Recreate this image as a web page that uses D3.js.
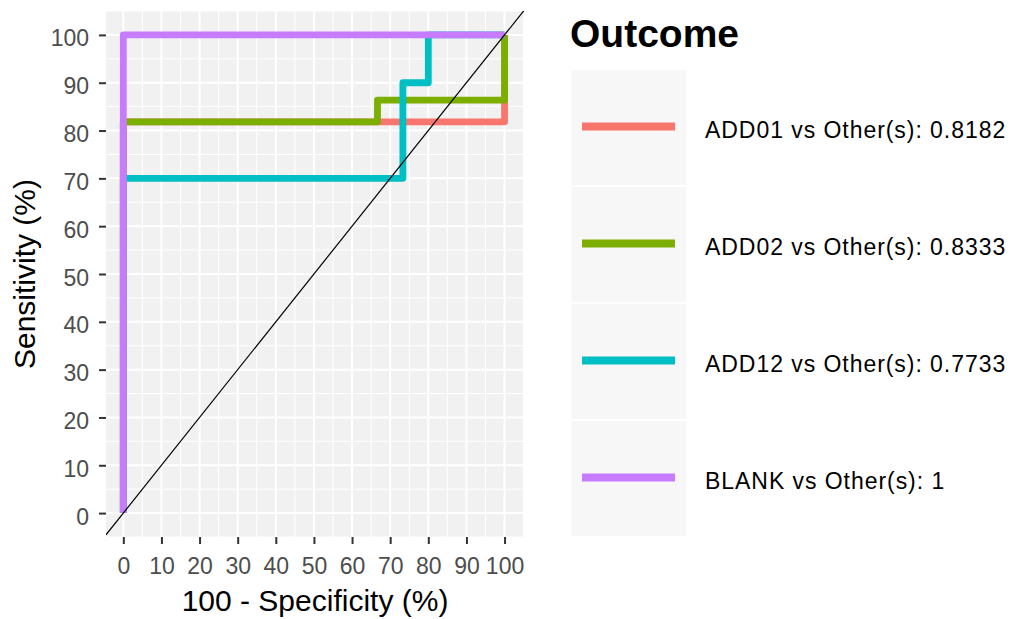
<!DOCTYPE html>
<html>
<head>
<meta charset="utf-8">
<script src="https://cdn.jsdelivr.net/npm/d3@7"></script>
<style>
  html, body { margin: 0; padding: 0; background: #ffffff; }
  svg { display: block; font-family: "Liberation Sans", Arial, sans-serif; }
</style>
</head>
<body>
<svg id="chart" width="1013" height="619"></svg>
<script>
// ---- Data ----
const seriesNames = [
  "ADD01 vs Other(s): 0.8182",
  "ADD02 vs Other(s): 0.8333",
  "ADD12 vs Other(s): 0.7733",
  "BLANK vs Other(s): 1"
];
const seriesColors = ["#F8766D", "#7CAE00", "#00BFC4", "#C77CFF"];

// x = 100 - Specificity (%), y = Sensitivity (%)
const add01X = [0, 0, 100, 100];
const add01Y = [0, 81.82, 81.82, 100];
const add02X = [0, 0, 66.67, 66.67, 100, 100];
const add02Y = [0, 81.82, 81.82, 86.36, 86.36, 100];
const add12X = [0, 0, 73.33, 73.33, 80, 80, 100];
const add12Y = [0, 70, 70, 90, 90, 100, 100];
const blankX = [0, 0, 100];
const blankY = [0, 100, 100];

const xTicks = [0, 10, 20, 30, 40, 50, 60, 70, 80, 90, 100];
const yTicks = [0, 10, 20, 30, 40, 50, 60, 70, 80, 90, 100];
const xMinor = [-5, 5, 15, 25, 35, 45, 55, 65, 75, 85, 95, 105];
const yMinor = [-5, 5, 15, 25, 35, 45, 55, 65, 75, 85, 95, 105];

const xTitle = "100 - Specificity (%)";
const yTitle = "Sensitivity (%)";
const legendTitle = "Outcome";

// ---- Build ----
const seriesX = [add01X, add02X, add12X, blankX];
const seriesY = [add01Y, add02Y, add12Y, blankY];
const series = seriesNames.map((name, i) => ({
  name, color: seriesColors[i],
  points: seriesX[i].map((x, j) => ({ x, y: seriesY[i][j] }))
}));

const svg = d3.select("#chart");
const panel = { left: 106, right: 524, top: 11, bottom: 537 };

const x = d3.scaleLinear().domain([-4.54, 105.1]).range([panel.left, panel.right]);
const y = d3.scaleLinear().domain([-5, 105]).range([panel.bottom, panel.top]);

// panel background
svg.append("rect")
  .attr("x", panel.left).attr("y", panel.top)
  .attr("width", panel.right - panel.left).attr("height", panel.bottom - panel.top)
  .attr("fill", "#F1F1F1");

svg.append("clipPath").attr("id", "clip")
  .append("rect")
  .attr("x", panel.left).attr("y", panel.top)
  .attr("width", panel.right - panel.left).attr("height", panel.bottom - panel.top);

const grid = svg.append("g").attr("clip-path", "url(#clip)");
// minor grid
grid.selectAll("line.xmin").data(xMinor).join("line")
  .attr("x1", d => x(d)).attr("x2", d => x(d))
  .attr("y1", panel.top).attr("y2", panel.bottom)
  .attr("stroke", "#ffffff").attr("stroke-width", 1);
grid.selectAll("line.ymin").data(yMinor).join("line")
  .attr("y1", d => y(d)).attr("y2", d => y(d))
  .attr("x1", panel.left).attr("x2", panel.right)
  .attr("stroke", "#ffffff").attr("stroke-width", 1);
// major grid
grid.selectAll("line.xmaj").data(xTicks).join("line")
  .attr("x1", d => x(d)).attr("x2", d => x(d))
  .attr("y1", panel.top).attr("y2", panel.bottom)
  .attr("stroke", "#ffffff").attr("stroke-width", 2);
grid.selectAll("line.ymaj").data(yTicks).join("line")
  .attr("y1", d => y(d)).attr("y2", d => y(d))
  .attr("x1", panel.left).attr("x2", panel.right)
  .attr("stroke", "#ffffff").attr("stroke-width", 2);

// curves
const line = d3.line().x(d => x(d.x)).y(d => y(d.y));
const plot = svg.append("g").attr("clip-path", "url(#clip)");
plot.selectAll("path.roc").data(series).join("path")
  .attr("class", "roc")
  .attr("d", d => line(d.points))
  .attr("fill", "none")
  .attr("stroke", d => d.color)
  .attr("stroke-width", 6.8)
  .attr("stroke-linejoin", "round")
  .attr("stroke-linecap", "butt");

// diagonal reference line
const dom = x.domain();
plot.append("line")
  .attr("x1", x(dom[0])).attr("y1", y(dom[0]))
  .attr("x2", x(dom[1])).attr("y2", y(dom[1]))
  .attr("stroke", "#000000").attr("stroke-width", 1.2);

// axes
const xAxis = d3.axisBottom(x).tickValues(xTicks).tickSize(7).tickPadding(14);
const gx = svg.append("g").attr("transform", `translate(0,${panel.bottom})`).call(xAxis);
gx.select(".domain").remove();
gx.selectAll(".tick line").attr("stroke", "#333333").attr("stroke-width", 2);
gx.selectAll(".tick text").attr("fill", "#4D4D4D").attr("font-size", 23)
  .attr("font-family", "Liberation Sans, Arial, sans-serif");

const yAxis = d3.axisLeft(y).tickValues(yTicks).tickSize(7).tickPadding(10);
const gy = svg.append("g").attr("transform", `translate(${panel.left},0)`).call(yAxis);
gy.select(".domain").remove();
gy.selectAll(".tick line").attr("stroke", "#333333").attr("stroke-width", 2);
gy.selectAll(".tick text").attr("fill", "#4D4D4D").attr("font-size", 23)
  .attr("font-family", "Liberation Sans, Arial, sans-serif")
  .attr("dy", "0.48em");

// axis titles
svg.append("text")
  .attr("x", (panel.left + panel.right) / 2).attr("y", 611)
  .attr("text-anchor", "middle").attr("font-size", 30).attr("fill", "#000")
  .text(xTitle);
svg.append("text")
  .attr("transform", `translate(35,${(panel.top + panel.bottom) / 2}) rotate(-90)`)
  .attr("text-anchor", "middle").attr("font-size", 30).attr("fill", "#000")
  .text(yTitle);

// legend
const leg = svg.append("g");
leg.append("text").attr("x", 570).attr("y", 46.5)
  .attr("font-size", 39).attr("font-weight", "bold").attr("fill", "#000")
  .text(legendTitle);

const keyTop = 69, keyH = 117, keyX = 570.5, keyW = 117;
const items = leg.selectAll("g.item").data(series).join("g")
  .attr("transform", (d, i) => `translate(0,${keyTop + i * keyH})`);
items.append("rect")
  .attr("x", keyX).attr("y", 0).attr("width", keyW).attr("height", keyH)
  .attr("fill", "#F7F7F7").attr("stroke", "#ffffff").attr("stroke-width", 2);
items.append("line")
  .attr("x1", 582).attr("x2", 675)
  .attr("y1", keyH / 2 - 1).attr("y2", keyH / 2 - 1)
  .attr("stroke", d => d.color).attr("stroke-width", 8);
items.append("text")
  .attr("x", 705).attr("y", keyH / 2 + 10)
  .attr("font-size", 23).attr("letter-spacing", "0.95px").attr("fill", "#000")
  .text(d => d.name);
</script>
</body>
</html>
